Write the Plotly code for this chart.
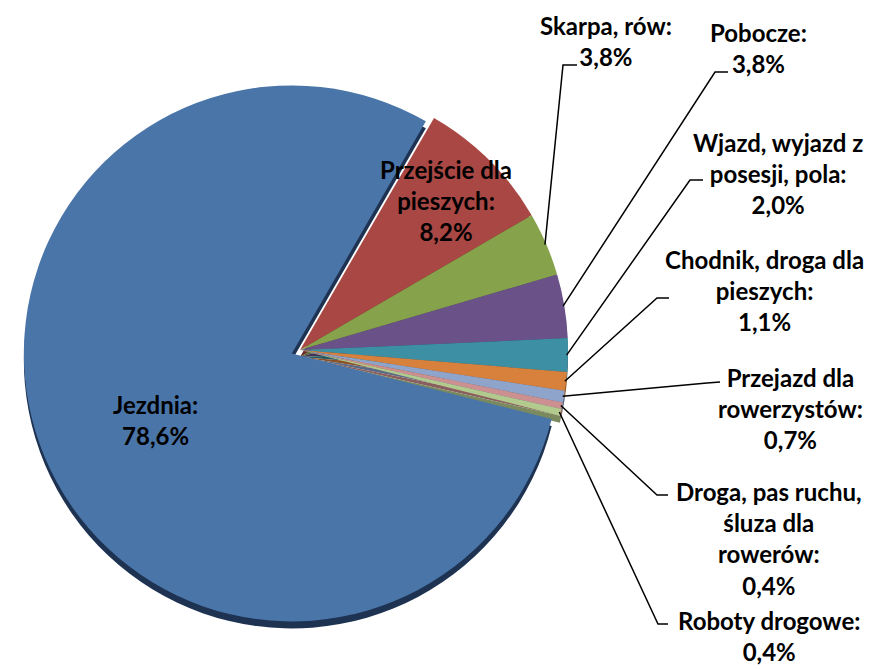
import math
import plotly.graph_objects as go

# Miejsce zdarzenia - udział procentowy
labels = [
    "Przejście dla pieszych",
    "Skarpa, rów",
    "Pobocze",
    "Wjazd, wyjazd z posesji, pola",
    "Chodnik, droga dla pieszych",
    "Przejazd dla rowerzystów",
    "Droga, pas ruchu, śluza dla rowerów",
    "Roboty drogowe",
    "Jezdnia",
]
values = [8.2, 3.8, 3.8, 2.0, 1.1, 0.7, 0.4, 0.4, 78.6]

# Label text blocks as drawn (line breaks included)
label_text = [
    "Przejście dla<br>pieszych:<br>8,2%",
    "Skarpa, rów:<br>3,8%",
    "Pobocze:<br>3,8%",
    "Wjazd, wyjazd z<br>posesji, pola:<br>2,0%",
    "Chodnik, droga dla<br>pieszych:<br>1,1%",
    "Przejazd dla<br>rowerzystów:<br>0,7%",
    "Droga, pas ruchu,<br>śluza dla<br>rowerów:<br>0,4%",
    "Roboty drogowe:<br>0,4%",
    "Jezdnia:<br>78,6%",
]

colors = ["#A84744", "#86A24A", "#6A5289", "#3D8FA3", "#D8813C",
          "#8EA4CB", "#CD9090", "#B3CA8E", "#4A75A8"]
side_colors = ["#6A2B29", "#56692F", "#433456", "#265A67", "#8C5226",
               "#5A6A85", "#8A5E5E", "#7A8A5E", "#1E3252"]
pulls = [0, 0, 0, 0, 0, 0, 0, 0, 0.033]

W, H = 870, 669
CX, CY, R = 300, 350, 268      # pie centre and radius in pixels
ROT = 30                        # start angle, degrees clockwise from 12 o'clock
DEPTH = 7                       # thickness of the pie's side wall
maxpull = max(pulls)
half = R * (1 + maxpull)


def px(x):
    return x / W


def py(y):
    return 1 - y / H


def dom(dy=0):
    return dict(x=[px(CX - half), px(CX + half)],
                y=[py(CY + dy + half), py(CY + dy - half)])


fig = go.Figure()
# side wall (darker copy shifted down)
fig.add_trace(go.Pie(
    labels=labels, values=values, sort=False, direction="clockwise",
    rotation=ROT, pull=pulls, textinfo="none", hoverinfo="skip",
    marker=dict(colors=side_colors, line=dict(width=0)),
    domain=dom(DEPTH), showlegend=False,
))
# top face
fig.add_trace(go.Pie(
    labels=labels, values=values, sort=False, direction="clockwise",
    rotation=ROT, pull=pulls, textinfo="none",
    marker=dict(colors=colors, line=dict(width=0)),
    domain=dom(0), showlegend=False,
))

# label positions (block centres) and leader-line elbows, in pixels
label_pos = [(446, 200), (606, 41), (758, 48), (778, 173), (764, 290),
             (790, 408), (769, 538), (769, 636), (155, 420)]
leaders = {
    1: [(563, 65), (577, 65)],
    2: [(715, 72), (728, 72)],
    3: [(690, 180), (703, 180)],
    4: [(657, 298), (669, 298)],
    5: [(707, 383), (720, 382)],
    6: [(657, 495), (668, 495)],
    7: [(658, 624), (668, 624)],
}

total = sum(values)
ang = ROT
mids = []
for v in values:
    span = 360 * v / total
    mids.append(ang + span / 2)
    ang += span

shapes = []
for i, pts in leaders.items():
    a = math.radians(mids[i])
    x0 = CX + R * 0.995 * math.sin(a)
    y0 = CY - R * 0.995 * math.cos(a)
    path = [(x0, y0)] + pts
    d = "M " + " L ".join(f"{px(x):.5f},{py(y):.5f}" for x, y in path)
    shapes.append(dict(type="path", xref="paper", yref="paper", path=d,
                       line=dict(color="black", width=1.5)))

annotations = []
for txt, (x, y) in zip(label_text, label_pos):
    annotations.append(dict(
        text=txt, x=px(x), y=py(y), xref="paper", yref="paper",
        xanchor="center", yanchor="middle", align="center", showarrow=False,
        font=dict(family="Lato", size=24, color="black", weight="bold"),
    ))

fig.update_layout(
    width=W, height=H,
    margin=dict(l=0, r=0, t=0, b=0),
    paper_bgcolor="white", plot_bgcolor="white",
    shapes=shapes, annotations=annotations,
)

fig.write_html("out.html")
